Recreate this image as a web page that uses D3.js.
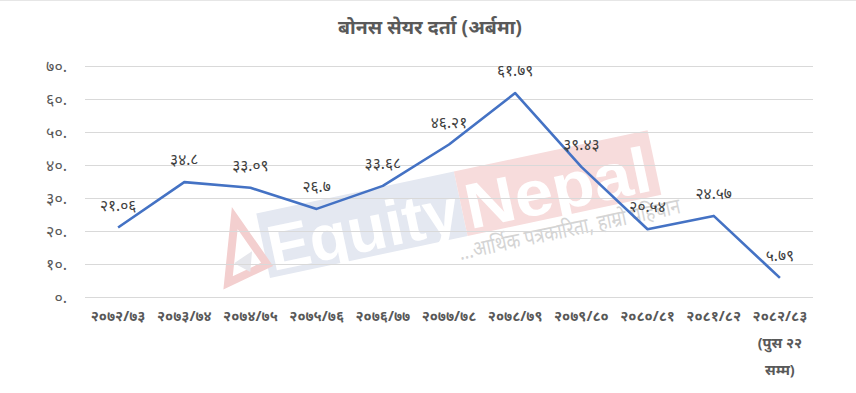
<!DOCTYPE html>
<html><head><meta charset="utf-8">
<script src="https://cdn.jsdelivr.net/npm/d3@7/dist/d3.min.js"></script>
<style>
html,body{margin:0;padding:0;background:#fff;}
svg{display:block;font-family:"Noto Sans",sans-serif;}
</style></head>
<body>
<svg id="chart" width="856" height="393"></svg>
<script>
const title = "बोनस सेयर दर्ता (अर्बमा)";
const categories = ["२०७२/७३","२०७३/७४","२०७४/७५","२०७५/७६","२०७६/७७","२०७७/७८","२०७८/७९","२०७९/८०","२०८०/८१","२०८१/८२","२०८२/८३|(पुस २२|सम्म)"];
const values = [21.06, 34.8, 33.09, 26.7, 33.68, 46.21, 61.79, 39.43, 20.54, 24.57, 5.79];
const yTicks = [0,10,20,30,40,50,60,70];
const yTickLabels = ["०.","१०.","२०.","३०.","४०.","५०.","६०.","७०."];

const devDigits = "०१२३४५६७८९";
const toDev = s => String(s).replace(/[0-9]/g, d => devDigits[+d]);

const svg = d3.select("#chart");
const W = 856, H = 393;

const x = d3.scaleBand().domain(categories).range([85, 813]).padding(0);
const y = d3.scaleLinear().domain([0, 70]).range([297, 66]);

// top border remnant
svg.append("line").attr("x1",0).attr("x2",W).attr("y1",0.5).attr("y2",0.5).attr("stroke","#e6e6e6");

// watermark
const wm = svg.append("g").attr("transform","translate(270,278) rotate(-12)");
wm.append("rect").attr("x",0).attr("y",-66).attr("width",202).attr("height",66).attr("fill","#e4e8f1");
wm.append("rect").attr("x",202).attr("y",-66).attr("width",198).attr("height",66).attr("fill","#f7dcdc");
wm.append("text").attr("x",4).attr("y",-6).attr("font-size",64).attr("font-weight","bold")
  .attr("textLength",194).attr("lengthAdjust","spacingAndGlyphs")
  .attr("fill","#ffffff").attr("font-family","Arial, Liberation Sans, sans-serif").text("Equity");
wm.append("text").attr("x",206).attr("y",-6).attr("font-size",64).attr("font-weight","bold")
  .attr("textLength",188).attr("lengthAdjust","spacingAndGlyphs")
  .attr("fill","#ffffff").attr("font-family","Arial, Liberation Sans, sans-serif").text("Nepal");
wm.append("text").attr("x",190).attr("y",22).attr("font-size",22)
  .attr("textLength",226).attr("lengthAdjust","spacingAndGlyphs")
  .attr("fill","#d4d4d4").text("...आर्थिक पत्रकारिता, हाम्रो पहिचान");
wm.append("path").attr("d","M-42,-4 L-22,-66 L0,-14 Z").attr("fill","none").attr("stroke","#f3cfcf").attr("stroke-width",8);
wm.append("path").attr("d","M-32,-22 L-12,-30 L-18,-10 Z").attr("fill","#e6e7ec");

// gridlines
svg.append("g").selectAll("line").data(yTicks).join("line")
  .attr("x1",85).attr("x2",813)
  .attr("y1",d=>Math.round(y(d))+0.5).attr("y2",d=>Math.round(y(d))+0.5)
  .attr("stroke","#d9d9d9").attr("stroke-width",1);

// y axis labels
const yAxis = d3.axisLeft(y).tickValues(yTicks).tickSize(0).tickPadding(0)
  .tickFormat((d,i)=>yTickLabels[i]);
const yg = svg.append("g").attr("transform","translate(67,0)").call(yAxis);
yg.select(".domain").remove();
yg.selectAll("text").attr("font-size",16).attr("fill","#595959").attr("font-family","Noto Sans, sans-serif");

// x axis labels
const xAxis = d3.axisBottom(x).tickSize(0).tickPadding(0).tickFormat(()=> "");
const xg = svg.append("g").attr("transform","translate(0,297)").call(xAxis);
xg.select(".domain").remove();
xg.selectAll(".tick").each(function(d){
  const t = d3.select(this).select("text");
  t.attr("y",0).attr("dy",null);
  d.split("|").forEach((line,i)=>{
    t.append("tspan").attr("x",0).attr("y", 24 + i*27).text(line);
  });
  t.attr("font-size",14.5).attr("font-weight","bold").attr("fill","#595959").attr("font-family","Noto Sans, sans-serif");
});

// line
const lineGen = d3.line().x((d,i)=>x(categories[i]) + x.bandwidth()/2).y(d=>y(d));
svg.append("path").datum(values).attr("d",lineGen)
  .attr("fill","none").attr("stroke","#4472c4").attr("stroke-width",2.6).attr("stroke-linejoin","round");

// data labels
svg.append("g").selectAll("text").data(values).join("text")
  .attr("x",(d,i)=>x(categories[i]) + x.bandwidth()/2)
  .attr("y",d=>y(d) - 17)
  .attr("text-anchor","middle")
  .attr("font-size",15.5).attr("fill","#404040")
  .text(d=>toDev(d));

// title
svg.append("text").attr("x",430).attr("y",34).attr("text-anchor","middle")
  .attr("font-size",19.5).attr("font-weight","bold").attr("fill","#595959").text(title);
</script>
</body></html>
